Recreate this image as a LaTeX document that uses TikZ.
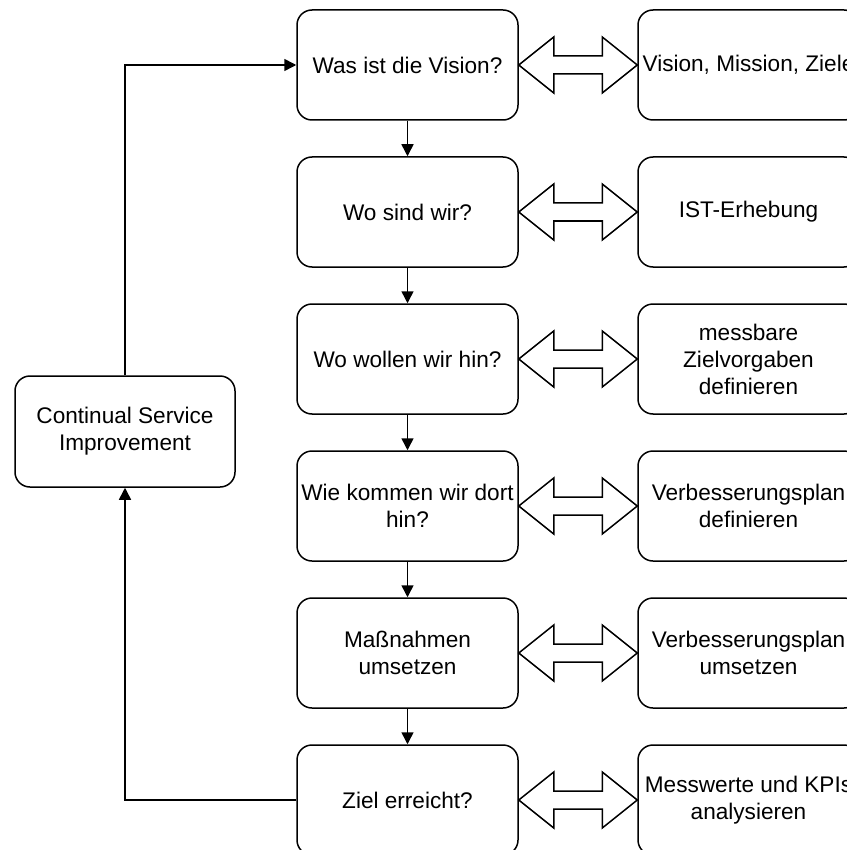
\documentclass[tikz,border=0pt]{standalone}
\usepackage{fontspec}
\setmainfont{Liberation Sans}
\usepackage{tikz}
\usetikzlibrary{arrows.meta, positioning}

\begin{document}
\begin{tikzpicture}[
    x=1pt, y=1pt,
    >={Triangle[length=12pt, width=12pt]},
    box/.style={rectangle, rounded corners=15pt, draw, line width=1.5pt,
                minimum width=221pt, minimum height=110pt, inner sep=2pt,
                align=center, font=\fontsize{22.6}{27}\selectfont},
    flow/.style={->, line width=1.5pt},
    blockarrow/.style={draw, line width=1.5pt, line join=miter},
    node distance=35.5pt and 118.5pt,
]
    \useasboundingbox (0,0) rectangle (846,-850);

    % Question column
    \node[box] (vision) at (407.5,-65) {Was ist die Vision?};
    \node[box, below=of vision] (wo) {Wo sind wir?};
    \node[box, below=of wo] (hin) {Wo wollen wir hin?};
    \node[box, below=of hin] (dort) {Wie kommen wir dort\\hin?};
    \node[box, below=of dort] (mass) {Maßnahmen\\umsetzen};
    \node[box, below=of mass] (ziel) {Ziel erreicht?};

    % Activity column
    \node[box, right=of vision] (vmz) {Vision, Mission, Ziele};
    \node[box, right=of wo] (ist) {IST-Erhebung};
    \node[box, right=of hin] (mess) {messbare\\Zielvorgaben\\definieren};
    \node[box, right=of dort] (vdef) {Verbesserungsplan\\definieren};
    \node[box, right=of mass] (vums) {Verbesserungsplan\\umsetzen};
    \node[box, right=of ziel] (kpi) {Messwerte und KPIs\\analysieren};

    % CSI
    \node[box, minimum width=220pt, minimum height=111pt] (csi) at (125,-431.5)
         {Continual Service\\Improvement};

    % Flow down
    \foreach \a/\b in {vision/wo, wo/hin, hin/dort, dort/mass, mass/ziel}
        \draw[flow] (\a) -- (\b);

    % Double arrows
    \foreach \a/\b in {vision/vmz, wo/ist, hin/mess, dort/vdef, mass/vums, ziel/kpi}
        \draw[blockarrow] (\a.east) -- ++(35,28) -- ++(0,-19) -- ++(48.5,0)
            -- ++(0,19) -- (\b.west) -- ++(-35,-28) -- ++(0,19) -- ++(-48.5,0)
            -- ++(0,-19) -- cycle;

    % Feedback loop
    \draw[flow] (ziel.west) -| (csi.south);
    \draw[flow] (csi.north) |- (vision.west);
\end{tikzpicture}
\end{document}
